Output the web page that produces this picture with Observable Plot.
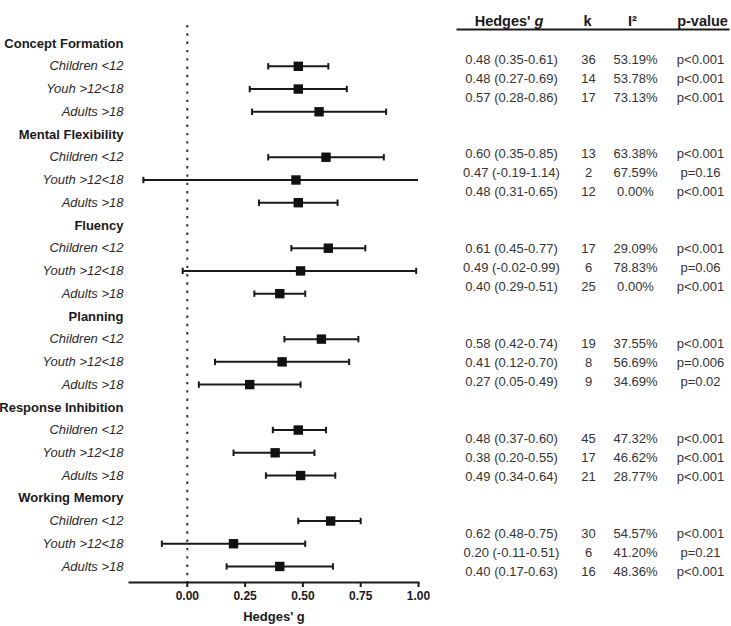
<!DOCTYPE html>
<html>
<head>
<meta charset="utf-8">
<script src="https://cdn.jsdelivr.net/npm/d3@7"></script>
<script src="https://cdn.jsdelivr.net/npm/@observablehq/plot@0.6"></script>
<style>
  html, body { margin: 0; padding: 0; background: #fff; }
  #wrap { position: relative; width: 731px; height: 626px; overflow: hidden; }
  #forest { position: absolute; left: 0; top: 0; }
  #table { position: absolute; left: 420px; top: 0; }
</style>
</head>
<body>
<div id="wrap"><div id="forest"></div><div id="table"></div></div>
<script>
// ---- data ----
const domains = ["Concept Formation", "Mental Flexibility", "Fluency", "Planning", "Response Inhibition", "Working Memory"];
const groupLabels = [
  ["Children <12", "Youh >12<18", "Adults >18"],
  ["Children <12", "Youth >12<18", "Adults >18"],
  ["Children <12", "Youth >12<18", "Adults >18"],
  ["Children <12", "Youth >12<18", "Adults >18"],
  ["Children <12", "Youth >12<18", "Adults >18"],
  ["Children <12", "Youth >12<18", "Adults >18"]
];
const gValues = [0.48, 0.48, 0.57, 0.60, 0.47, 0.48, 0.61, 0.49, 0.40, 0.58, 0.41, 0.27, 0.48, 0.38, 0.49, 0.62, 0.20, 0.40];
const ciLow   = [0.35, 0.27, 0.28, 0.35, -0.19, 0.31, 0.45, -0.02, 0.29, 0.42, 0.12, 0.05, 0.37, 0.20, 0.34, 0.48, -0.11, 0.17];
const ciHigh  = [0.61, 0.69, 0.86, 0.85, 1.14, 0.65, 0.77, 0.99, 0.51, 0.74, 0.70, 0.49, 0.60, 0.55, 0.64, 0.75, 0.51, 0.63];
const kValues = [36, 14, 17, 13, 2, 12, 17, 6, 25, 19, 8, 9, 45, 17, 21, 30, 6, 16];
const i2Values = ["53.19%", "53.78%", "73.13%", "63.38%", "67.59%", "0.00%", "29.09%", "78.83%", "0.00%", "37.55%", "56.69%", "34.69%", "47.32%", "46.62%", "28.77%", "54.57%", "41.20%", "48.36%"];
const pValues = ["p<0.001", "p<0.001", "p<0.001", "p<0.001", "p=0.16", "p<0.001", "p<0.001", "p=0.06", "p<0.001", "p<0.001", "p=0.006", "p=0.02", "p<0.001", "p<0.001", "p<0.001", "p<0.001", "p=0.21", "p<0.001"];
const xTicks = [0, 0.25, 0.5, 0.75, 1.0];
const xDomain = [-0.25, 1.0];
const axisLabel = "Hedges' g";

// ---- build rows ----
const headerRows = [];
const subRows = [];
const keys = [];
domains.forEach((d, i) => {
  const hk = "h" + i;
  keys.push(hk);
  headerRows.push({key: hk, label: d});
  groupLabels[i].forEach((lab, j) => {
    const idx = i * 3 + j;
    const rk = "r" + i + "-" + j;
    keys.push(rk);
    subRows.push({
      key: rk, label: lab, g: gValues[idx], lo: ciLow[idx], hi: ciHigh[idx],
      k: kValues[idx], i2: i2Values[idx], p: pValues[idx],
      tIndex: i * 5 + j,
      ci: `${gValues[idx].toFixed(2)} (${ciLow[idx].toFixed(2)}-${ciHigh[idx].toFixed(2)})`
    });
  });
});

const FONT = "'Liberation Sans', Arial, Helvetica, sans-serif";
const INK = "#1a1a1a";

// vertical cap symbol for whisker ends
const capSymbol = {
  draw(context, size) {
    const h = Math.sqrt(size / Math.PI);
    context.moveTo(0, -h);
    context.lineTo(0, h);
  }
};

// ---- forest plot ----
const forest = Plot.plot({
  width: 430,
  height: 626,
  marginLeft: 129,
  marginRight: 12,
  marginTop: 25,
  marginBottom: 44,
  style: {fontFamily: FONT, fontSize: "13px", color: INK, background: "transparent"},
  x: {domain: xDomain},
  y: {type: "point", domain: keys, padding: 0.75, align: 0.53, round: false, axis: null},
  marks: [
    Plot.ruleX([0], {stroke: "#333", strokeWidth: 2, strokeDasharray: "2.4,5.9"}),
    Plot.ruleY(subRows, {y: "key", x1: "lo", x2: "hi", stroke: INK, strokeWidth: 2, clip: true}),
    Plot.dot(subRows, {y: "key", x: "lo", symbol: capSymbol, r: 3.2, stroke: INK, fill: "none", strokeWidth: 2, clip: true}),
    Plot.dot(subRows, {y: "key", x: "hi", symbol: capSymbol, r: 3.2, stroke: INK, fill: "none", strokeWidth: 2, clip: true}),
    Plot.dot(subRows, {y: "key", x: "g", symbol: "square", r: 5.3, fill: "#111", stroke: "none"}),
    Plot.text(headerRows, {y: "key", text: "label", frameAnchor: "left", textAnchor: "end", dx: -6, fontWeight: "bold", fontSize: 13, fill: INK}),
    Plot.text(subRows, {y: "key", text: "label", frameAnchor: "left", textAnchor: "end", dx: -6, fontStyle: "italic", fontSize: 13, fill: "#2a2a2a"}),
    Plot.frame({anchor: "bottom", stroke: INK, strokeWidth: 2}),
    Plot.axisX({
      ticks: xTicks, tickFormat: d3.format(".2f"), tickSize: 5, tickPadding: 4,
      strokeWidth: 2, fontWeight: "bold", fontSize: 12,
      label: null
    }),
    Plot.text([axisLabel], {text: d => d, frameAnchor: "bottom", dy: 34, lineAnchor: "middle", fontWeight: "bold", fontSize: 13, fill: INK})
  ]
});
document.getElementById("forest").appendChild(forest);

// ---- table ----
const tableCols = {ci: 54, k: 131, i2: 178, p: 243};
const tableHeads = [
  {text: "Hedges'", dx: 73, anchor: "end", italic: false},
  {text: "g", dx: 77, anchor: "start", italic: true},
  {text: "k", dx: 130, anchor: "middle", italic: false},
  {text: "I²", dx: 175, anchor: "middle", italic: false},
  {text: "p-value", dx: 245, anchor: "middle", italic: false}
];
const tableStyle = {fill: "#333", fontSize: 13, textAnchor: "middle", frameAnchor: "left"};
const table = Plot.plot({
  width: 311,
  height: 626,
  marginLeft: 37,
  marginRight: 3,
  marginTop: 29,
  marginBottom: 55,
  insetTop: 30,
  style: {fontFamily: FONT, fontSize: "13px", color: INK, background: "transparent"},
  x: {axis: null},
  y: {domain: [0, 27], reverse: true, axis: null},
  marks: [
    Plot.frame({anchor: "top", stroke: INK, strokeWidth: 2}),
    ...tableHeads.map(h => Plot.text([h.text], {
      text: d => d, frameAnchor: "top-left", dx: h.dx, dy: -14, textAnchor: h.anchor,
      fontWeight: "bold", fontStyle: h.italic ? "italic" : "normal", fontSize: 14.5, fill: INK
    })),
    Plot.text(subRows, {y: "tIndex", text: "ci", dx: tableCols.ci, ...tableStyle}),
    Plot.text(subRows, {y: "tIndex", text: "k", dx: tableCols.k, ...tableStyle}),
    Plot.text(subRows, {y: "tIndex", text: "i2", dx: tableCols.i2, ...tableStyle}),
    Plot.text(subRows, {y: "tIndex", text: "p", dx: tableCols.p, ...tableStyle})
  ]
});
document.getElementById("table").appendChild(table);
</script>
</body>
</html>
